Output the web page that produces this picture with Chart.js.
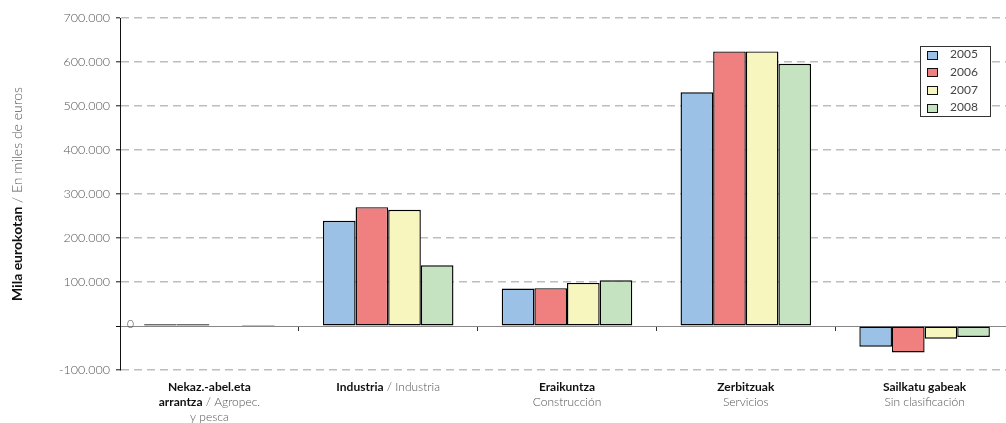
<!DOCTYPE html>
<html><head><meta charset="utf-8">
<script src="https://cdn.jsdelivr.net/npm/chart.js@4.4.0/dist/chart.umd.min.js"></script>
<style>
html,body{margin:0;padding:0;background:#fff;overflow:hidden;width:1006px;height:423px;}
#wrap{position:relative;width:1016px;height:423px;}
</style></head><body>
<div id="wrap"><canvas id="c" width="1016" height="423"></canvas></div>
<script>
// ---- data ----
const categories = [
  'Nekaz.-abel.eta arrantza / Agropec. y pesca',
  'Industria / Industria',
  'Eraikuntza / Construcción',
  'Zerbitzuak / Servicios',
  'Sailkatu gabeak / Sin clasificación'
];
// label lines: each segment [text, isBold]
const categoryLines = [
  [[['Nekaz.-abel.eta', true]], [['arrantza', true], [' / Agropec.', false]], [['y pesca', false]]],
  [[['Industria', true], [' / Industria', false]]],
  [[['Eraikuntza', true]], [['Construcción', false]]],
  [[['Zerbitzuak', true]], [['Servicios', false]]],
  [[['Sailkatu gabeak', true]], [['Sin clasificación', false]]]
];
const years = ['2005', '2006', '2007', '2008'];
const values2005 = [4000, 239000, 85000, 531000, -47000];
const values2006 = [4000, 270000, 86000, 624000, -60000];
const values2007 = [1000, 264000, 98000, 624000, -29000];
const values2008 = [2000, 138000, 104000, 596000, -25000];
const seriesColors = ['#9BC2E6', '#F08080', '#F6F6BE', '#C5E3C1'];
const yMin = -100000, yMax = 700000, yStep = 100000;
const yTitleBold = 'Mila eurokotan';
const yTitleLight = ' / En miles de euros';

// ---- rendering ----
const FONT = 'Lato, "Open Sans", "DejaVu Sans", sans-serif';
const BOLD = 'bold 12px ' + FONT;
const LIGHT = '300 12px ' + FONT;

function fmt(v) {
  const neg = v < 0;
  const s = String(Math.abs(v)).replace(/\B(?=(\d{3})+(?!\d))/g, '.');
  return (neg ? '-' : '') + s;
}

function drawSegments(ctx, segs, cx, y, boldFont, lightFont, boldColor, lightColor) {
  let total = 0;
  const widths = segs.map(([t, b]) => { ctx.font = b ? boldFont : lightFont; const w = ctx.measureText(t).width; total += w; return w; });
  let x = cx - total / 2;
  segs.forEach(([t, b], k) => {
    ctx.font = b ? boldFont : lightFont;
    ctx.fillStyle = b ? boldColor : lightColor;
    ctx.fillText(t, x, y);
    x += widths[k];
  });
}

const textPlugin = {
  id: 'textPlugin',
  afterDraw(chart) {
    const ctx = chart.ctx;
    const ca = chart.chartArea;
    const xs = chart.scales.x, ys = chart.scales.y;
    ctx.save();
    ctx.textAlign = 'left';
    ctx.textBaseline = 'middle';
    // category labels
    categoryLines.forEach((lines, i) => {
      const cx = xs.getPixelForValue(i);
      lines.forEach((segs, j) => {
        drawSegments(ctx, segs, cx, ca.bottom + 17 + j * 15, BOLD, LIGHT, '#111', '#555');
      });
    });
    // zero label
    ctx.font = '300 12px ' + FONT;
    ctx.fillStyle = '#555';
    ctx.fillText('0', ca.left + 7, ys.getPixelForValue(0) - 2);
    // y title
    ctx.save();
    ctx.translate(17, (ca.top + ca.bottom) / 2);
    ctx.rotate(-Math.PI / 2);
    drawSegments(ctx, [[yTitleBold, true], [yTitleLight, false]], 0, 0,
      'bold 14px ' + FONT, '300 14px ' + FONT, '#111', '#555');
    ctx.restore();
    // legend
    const bx = 920.5, by = 46.5, bw = 70, bh = 70;
    ctx.fillStyle = '#fff';
    ctx.fillRect(bx, by, bw, bh);
    ctx.strokeStyle = '#333';
    ctx.lineWidth = 1;
    ctx.strokeRect(bx, by, bw, bh);
    chart.data.datasets.forEach((ds, i) => {
      const ry = 54.5 + i * 17.7;
      ctx.fillStyle = ds.backgroundColor;
      ctx.fillRect(927.5, Math.round(ry) - 3.5, 10, 8);
      ctx.strokeStyle = '#111';
      ctx.strokeRect(927.5, Math.round(ry) - 3.5, 10, 8);
      ctx.font = '12px ' + FONT;
      ctx.fillStyle = '#444';
      ctx.fillText(ds.label, 950, ry);
    });
    ctx.restore();
  }
};

const allSeries = [values2005, values2006, values2007, values2008];
new Chart(document.getElementById('c'), {
  type: 'bar',
  data: {
    labels: categories,
    datasets: years.map((y, i) => ({
      label: y,
      data: allSeries[i],
      backgroundColor: seriesColors[i],
      borderColor: '#000',
      borderWidth: 1.4,
      borderSkipped: false,
      categoryPercentage: 0.73,
      barPercentage: 1.0
    }))
  },
  options: {
    responsive: false,
    animation: false,
    layout: { padding: { top: 18, bottom: 53, right: 2, left: 0 } },
    plugins: { legend: { display: false }, tooltip: { enabled: false }, title: { display: false } },
    scales: {
      x: {
        position: { y: 0 },
        offset: true,
        ticks: { display: false },
        grid: { drawOnChartArea: false, drawTicks: true, tickLength: 4, tickColor: '#333', offset: true },
        border: { display: true, color: '#888', width: 1 }
      },
      y: {
        min: yMin, max: yMax,
        afterFit(scale) { scale.width = 120; },
        ticks: {
          stepSize: yStep,
          padding: 6,
          color: '#555',
          font: { family: FONT, size: 12.5, weight: '300' },
          callback: (v) => v === 0 ? '' : fmt(v)
        },
        grid: {
          color: (c) => (c.tick && c.tick.value === 0) ? '#888' : '#BDBDBD',
          lineWidth: (c) => (c.tick && c.tick.value === 0) ? 1 : 1.6,
          tickColor: '#111',
          tickLength: 4,
          tickWidth: 1
        },
        border: {
          display: true, color: '#111', width: 1,
          dash: (c) => (c.tick && c.tick.value === 0) ? [] : [8, 5]
        }
      }
    }
  },
  plugins: [textPlugin]
});
</script>
</body></html>
